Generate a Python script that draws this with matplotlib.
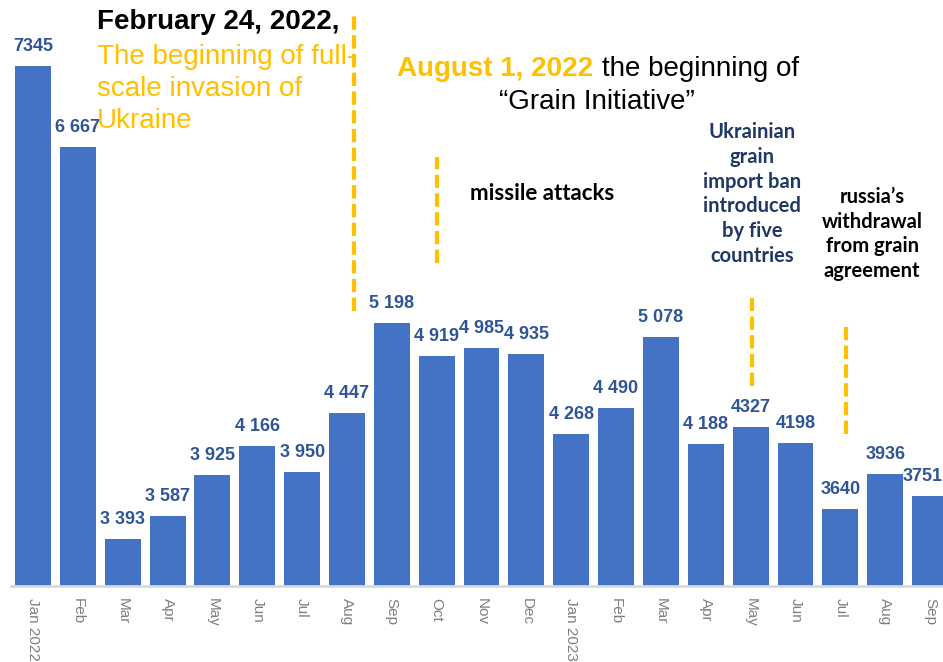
import matplotlib
matplotlib.use("Agg")
import matplotlib.pyplot as plt

# monthly values, Jan 2022 - Sep 2023
months = ["Jan 2022", "Feb", "Mar", "Apr", "May", "Jun", "Jul", "Aug", "Sep", "Oct",
          "Nov", "Dec", "Jan 2023", "Feb", "Mar", "Apr", "May", "Jun", "Jul", "Aug", "Sep"]
values = [7345, 6667, 3393, 3587, 3925, 4166, 3950, 4447, 5198, 4919,
          4985, 4935, 4268, 4490, 5078, 4188, 4327, 4198, 3640, 3936, 3751]
value_labels = ["7345", "6 667", "3 393", "3 587", "3 925", "4 166", "3 950", "4 447",
                "5 198", "4 919", "4 985", "4 935", "4 268", "4 490", "5 078", "4 188",
                "4327", "4198", "3640", "3936", "3751"]

# event markers: x position (bar index), dashed line from y0 to y1
event_x = [7.15, 9.0, 16.03, 18.13]
event_y0 = [5300, 5700, 4670, 4270]
event_y1 = [7800, 6585, 5405, 5165]

bar_color = "#4472C4"
label_color = "#2F5597"
gold = "#FFC000"
navy = "#1F3864"

plt.rcParams["font.family"] = ["Liberation Sans", "DejaVu Sans"]

fig = plt.figure(figsize=(9.43, 6.62), dpi=100)
W, H = 943.0, 662.0
ax = fig.add_axes([10.6 / W, 76 / H, (W - 10.6) / W, 586 / H])

x = list(range(len(values)))
ax.bar(x, values, width=0.8, color=bar_color, zorder=2)
ax.set_ylim(3000, 7896)
ax.set_xlim(-0.5, 20.29)

for xi, v, lab in zip(x, values, value_labels):
    dx = -5 if xi == len(values) - 1 else 0   # last label pulled in from the edge
    ax.annotate(lab, (xi, v), xytext=(dx, 8), textcoords="offset points",
                ha="center", va="bottom", fontsize=13, fontweight="bold",
                color=label_color)

for ex, y0, y1 in zip(event_x, event_y0, event_y1):
    ax.vlines(ex, y0, y1, colors=gold, linewidth=3, linestyles=(0, (3.2, 1.3)), zorder=3)

for s in ["top", "right", "left"]:
    ax.spines[s].set_visible(False)
ax.spines["bottom"].set_color("#d9d9d9")
ax.spines["bottom"].set_linewidth(2)
ax.set_yticks([])
ax.set_xticks(x)
ax.set_xticklabels(months, rotation=-90, fontsize=11, color="#7f7f7f", va="top")
ax.tick_params(axis="x", length=0, pad=9)

# annotations
fig.text(97 / W, 1 - 22 / H, "February 24, 2022,", fontsize=20, fontweight="bold",
         color="black", ha="left", va="center")
fig.text(97 / W, 1 - 89 / H, "The beginning of full-\nscale invasion of\nUkraine",
         fontsize=20, color=gold, ha="left", va="center", linespacing=1.3)

fig.text(593 / W, 1 - 69 / H, "August 1, 2022", fontsize=20, fontweight="bold",
         color=gold, ha="right", va="center")
fig.text(602 / W, 1 - 69 / H, "the beginning of", fontsize=20, color="black",
         ha="left", va="center")
fig.text(597 / W, 1 - 102 / H, "\u201cGrain Initiative\u201d", fontsize=20, color="black",
         ha="center", va="center")

fig.text(542 / W, 1 - 193 / H, "missile attacks", fontsize=16, fontweight="bold",
         color="black", ha="center", va="center", family=["Lato", "DejaVu Sans"])
fig.text(752 / W, 1 - 194 / H, "Ukrainian\ngrain\nimport ban\nintroduced\nby five\ncountries",
         fontsize=14.5, fontweight="bold", color=navy, ha="center", va="center",
         linespacing=1.3, family=["Lato", "DejaVu Sans"])
fig.text(872 / W, 1 - 234 / H, "russia\u2019s\nwithdrawal\nfrom grain\nagreement",
         fontsize=14.5, fontweight="bold", color="black", ha="center", va="center",
         linespacing=1.3, family=["Lato", "DejaVu Sans"])

fig.savefig("out.png", dpi=100)
